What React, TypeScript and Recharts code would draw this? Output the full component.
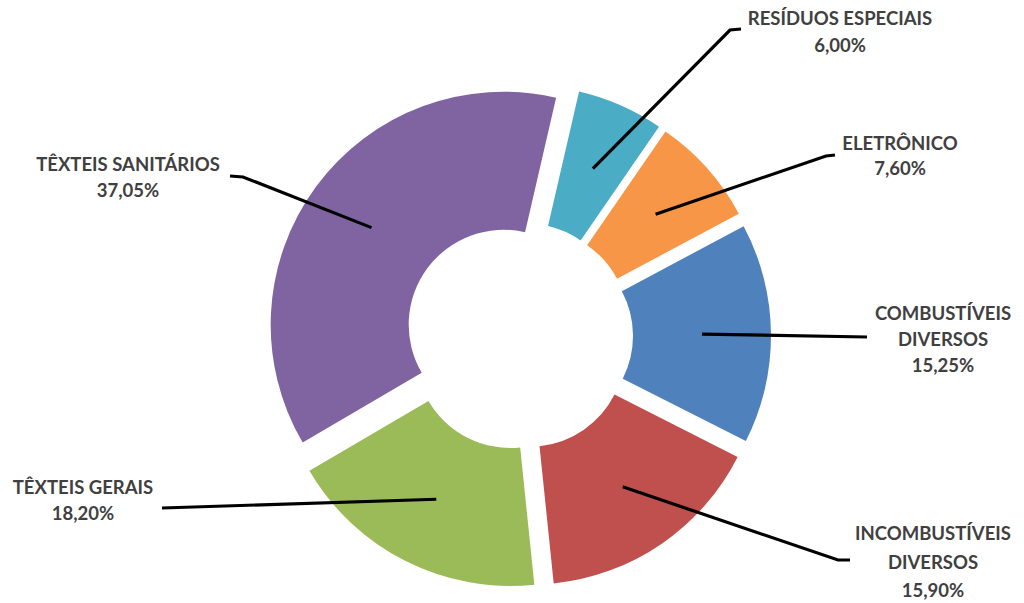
import { PieChart, Pie, Cell } from 'recharts';

const categories = [
  'RESÍDUOS ESPECIAIS',
  'ELETRÔNICO',
  'COMBUSTÍVEIS DIVERSOS',
  'INCOMBUSTÍVEIS DIVERSOS',
  'TÊXTEIS GERAIS',
  'TÊXTEIS SANITÁRIOS',
];
const values = [6.0, 7.6, 15.25, 15.9, 18.2, 37.05];
const colors = ['#4BACC6', '#F79646', '#4F81BD', '#C0504D', '#9BBB59', '#8064A2'];
// how each category name is broken over lines in the label
const labelLines = [
  ['RESÍDUOS ESPECIAIS'],
  ['ELETRÔNICO'],
  ['COMBUSTÍVEIS', 'DIVERSOS'],
  ['INCOMBUSTÍVEIS', 'DIVERSOS'],
  ['TÊXTEIS GERAIS'],
  ['TÊXTEIS SANITÁRIOS'],
];

// layout
const CX = 514;
const CY = 331;
const EXPLODE = 19;
const INNER = 95;
const OUTER = 233;
const FIRST_ANGLE = 13; // degrees clockwise from 12 o'clock
const RAD = Math.PI / 180;

// leader line bends and label text placement (x, first line y, line step)
const labelLayout = [
  { pts: [[730, 30], [741, 29]], tx: 840, ty: 18, step: 27 },
  { pts: [[826, 156], [835, 155]], tx: 900, ty: 143, step: 25 },
  { pts: [[867, 337]], tx: 943, ty: 313, step: 26 },
  { pts: [[838, 560], [850, 560]], tx: 933, ty: 533, step: 28.5 },
  { pts: [[162, 508]], tx: 83, ty: 487, step: 26 },
  { pts: [[243, 177], [230, 176]], tx: 128, ty: 164, step: 26 },
];

const total = values.reduce((a, b) => a + b, 0);

const slices = values.map((v, i) => {
  const before = values.slice(0, i).reduce((a, b) => a + b, 0);
  const start = FIRST_ANGLE + (360 * before) / total;
  const end = start + (360 * v) / total;
  const mid = (start + end) / 2;
  return {
    index: i,
    data: [{ name: categories[i], value: v }],
    startAngle: 90 - start,
    endAngle: 90 - end,
    cx: CX + EXPLODE * Math.sin(mid * RAD),
    cy: CY - EXPLODE * Math.cos(mid * RAD),
  };
});

const fmt = (v: number) => v.toFixed(2).replace('.', ',') + '%';

function makeLabel(i: number) {
  return (props: any) => {
    const { cx, cy, midAngle, innerRadius, outerRadius } = props;
    const r = (innerRadius + outerRadius) / 2;
    const sx = cx + r * Math.cos(-midAngle * RAD);
    const sy = cy + r * Math.sin(-midAngle * RAD);
    const lay = labelLayout[i];
    const points = [[sx, sy], ...lay.pts].map(p => p.join(',')).join(' ');
    const lines = [...labelLines[i], fmt(values[i])];
    return (
      <g>
        <polyline points={points} fill="none" stroke="#000" strokeWidth={3.2} />
        <text
          textAnchor="middle"
          fontFamily="Lato, 'Open Sans', sans-serif"
          fontWeight={700}
          fontSize={18.5}
          fill="#404040"
        >
          {lines.map((t, k) => (
            <tspan key={k} x={lay.tx} y={lay.ty + k * lay.step} dominantBaseline="central">
              {t}
            </tspan>
          ))}
        </text>
      </g>
    );
  };
}

export default function App() {
  return (
    <div style={{ position: 'absolute', left: 0, top: 0, background: '#fff' }}>
      <PieChart width={1024} height={603}>
        {slices.map(s => (
          <Pie
            key={s.index}
            data={s.data}
            dataKey="value"
            nameKey="name"
            cx={s.cx}
            cy={s.cy}
            innerRadius={INNER}
            outerRadius={OUTER}
            startAngle={s.startAngle}
            endAngle={s.endAngle}
            stroke="none"
            label={makeLabel(s.index)}
            labelLine={false}
            isAnimationActive={false}
          >
            <Cell fill={colors[s.index]} />
          </Pie>
        ))}
      </PieChart>
    </div>
  );
}
